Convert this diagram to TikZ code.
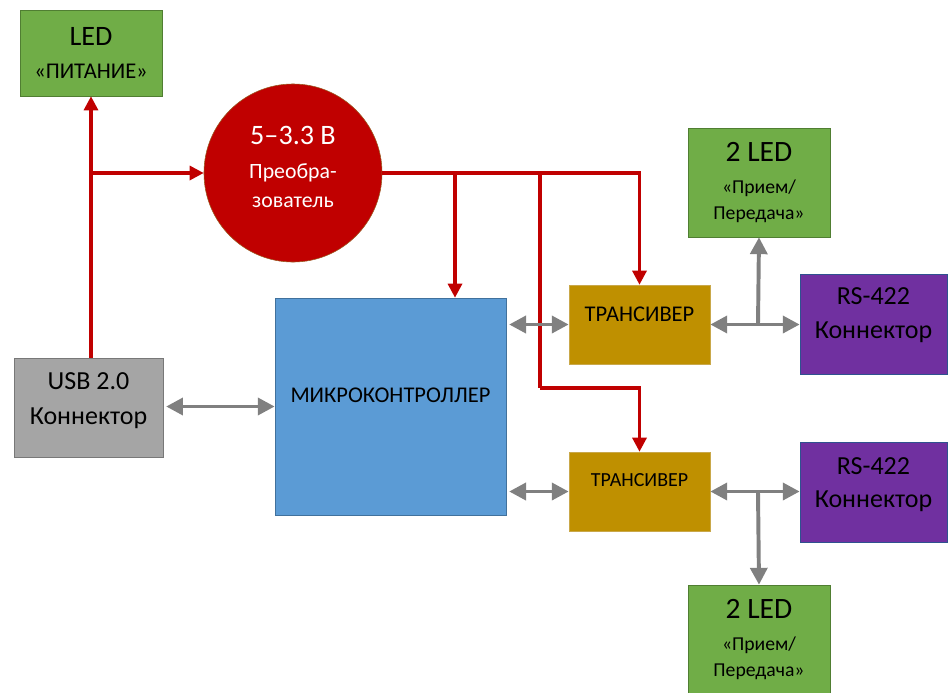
\documentclass[tikz,border=0pt]{standalone}
\usepackage{fontspec}
\setmainfont{Carlito}
\usetikzlibrary{arrows.meta}
\definecolor{ledgreen}{HTML}{70AD47}
\definecolor{ledline}{HTML}{507E32}
\definecolor{mcublue}{HTML}{5B9BD5}
\definecolor{mculine}{HTML}{41719C}
\definecolor{usbgray}{HTML}{A5A5A5}
\definecolor{usbline}{HTML}{787878}
\definecolor{trgold}{HTML}{BF9000}
\definecolor{trline}{HTML}{C9A84A}
\definecolor{rspurple}{HTML}{7030A0}
\definecolor{rsline}{HTML}{2F528F}
\definecolor{pwrred}{HTML}{C00000}
\definecolor{convline}{HTML}{9A5A20}
\definecolor{busgray}{HTML}{808080}
\tikzset{
  block/.style={draw, thin, align=center, inner sep=2pt},
  ledblock/.style={block, fill=ledgreen, draw=ledline, minimum width=3.55cm, minimum height=2.725cm},
  usbblock/.style={block, fill=usbgray, draw=usbline, minimum width=3.725cm, minimum height=2.475cm},
  mcublock/.style={block, fill=mcublue, draw=mculine, minimum width=5.775cm, minimum height=5.425cm},
  trblock/.style={block, fill=trgold, draw=trline, minimum width=3.525cm, minimum height=1.975cm},
  rsblock/.style={block, fill=rspurple, draw=rsline, minimum width=3.675cm, minimum height=2.5cm},
  convnode/.style={circle, draw=convline, thin, fill=pwrred, inner sep=0pt, minimum size=4.45cm},
  lbl/.style={align=center, inner sep=0pt},
  pwrarr/.style={-{Triangle[length=10pt,width=10pt]}, line width=2.2pt, draw=pwrred},
  pwrline/.style={line width=2.2pt, draw=pwrred},
  busarr/.style={{Triangle[length=12pt,width=12pt]}-{Triangle[length=12pt,width=12pt]},
    line width=2.8pt, draw=busgray},
  busend/.style={-{Triangle[length=12pt,width=12pt]}, line width=2.8pt, draw=busgray}
}

\begin{document}
\begin{tikzpicture}[x=0.025cm, y=-0.025cm]
  \useasboundingbox (0,0) rectangle (948,692);

  % blocks
  \node[ledblock, minimum height=2.15cm, font=\fontsize{20}{24}\selectfont] (ledp) at (91,53)
    {LED\\{\fontsize{16}{17}\selectfont «ПИТАНИЕ»}};
  \node[convnode] (conv) at (293,173) {};
  \node[usbblock] (usb) at (88.5,407.5) {};
  \node[mcublock] (mcu) at (390.5,406.5) {};
  \node[trblock] (tr1) at (639.5,324.5) {};
  \node[trblock] (tr2) at (639.5,491.5) {};
  \node[rsblock] (rs1) at (873.5,324.5) {};
  \node[rsblock] (rs2) at (873.5,492.5) {};
  \node[ledblock, font=\fontsize{21}{18}\selectfont] (led1) at (759,182.5)
    {2 LED\\[5pt]{\fontsize{14}{17}\selectfont «Прием/}\\{\fontsize{14}{17}\selectfont Передача»}};
  \node[ledblock, font=\fontsize{21}{18}\selectfont] (led2) at (759,639.5)
    {2 LED\\[5pt]{\fontsize{14}{17}\selectfont «Прием/}\\{\fontsize{14}{17}\selectfont Передача»}};

  % texts
  \node[lbl, text=white, font=\fontsize{15.5}{20.5}\selectfont] (convt) at ([yshift=4.5pt]conv.center)
    {{\fontsize{20}{22}\selectfont 5–3.3 В}\\[4pt]Преобра-\\зователь};
  \node[lbl, font=\fontsize{18.5}{25}\selectfont] (usbt) at ([yshift=5pt]usb.center) {USB 2.0\\Коннектор};
  \node[lbl, font=\fontsize{16}{18}\selectfont] (mcut) at ([yshift=8pt]mcu.center) {МИКРОКОНТРОЛЛЕР};
  \node[lbl, font=\fontsize{16}{18}\selectfont] (tr1t) at ([yshift=7.5pt]tr1.center) {ТРАНСИВЕР};
  \node[lbl, font=\fontsize{14.2}{16}\selectfont] (tr2t) at ([yshift=8pt]tr2.center) {ТРАНСИВЕР};
  \node[lbl, font=\fontsize{18.5}{24}\selectfont] (rs1t) at ([yshift=6.5pt]rs1.center) {RS-422\\Коннектор};
  \node[lbl, font=\fontsize{18.5}{24}\selectfont] (rs2t) at ([yshift=5.5pt]rs2.center) {RS-422\\Коннектор};

  % power
  \coordinate (j1) at (91,173);
  \coordinate (j2) at (455,173);
  \coordinate (j3) at (540,173);
  \coordinate (j4) at (540,388);
  \draw[pwrarr] (usb.north -| ledp.south) -- (ledp.south);
  \draw[pwrarr] (j1) -- (conv.west);
  \draw[pwrarr] (conv.east) -| (tr1.north);
  \draw[pwrarr] (j2) -- (j2 |- mcu.north);
  \draw[pwrline] (j3) -- (j4);
  \draw[pwrarr] (j4) -| (tr2.north);

  % data
  \coordinate (j5) at (758,324.5);
  \coordinate (j6) at (758,491.5);
  \draw[busarr] ([xshift=2pt]usb.east |- mcu.west) -- (mcu.west);
  \draw[busarr] ([xshift=2pt]mcu.east |- tr1.west) -- (tr1.west);
  \draw[busarr] ([xshift=2pt]mcu.east |- tr2.west) -- (tr2.west);
  \draw[busarr] (tr1.east) -- (tr1.east -| rs1.west);
  \draw[busarr] (tr2.east) -- (tr2.east -| rs2.west);
  \draw[busend] (j5) -- (led1.south);
  \draw[busend] (j6) -- (led2.north);
\end{tikzpicture}
\end{document}
